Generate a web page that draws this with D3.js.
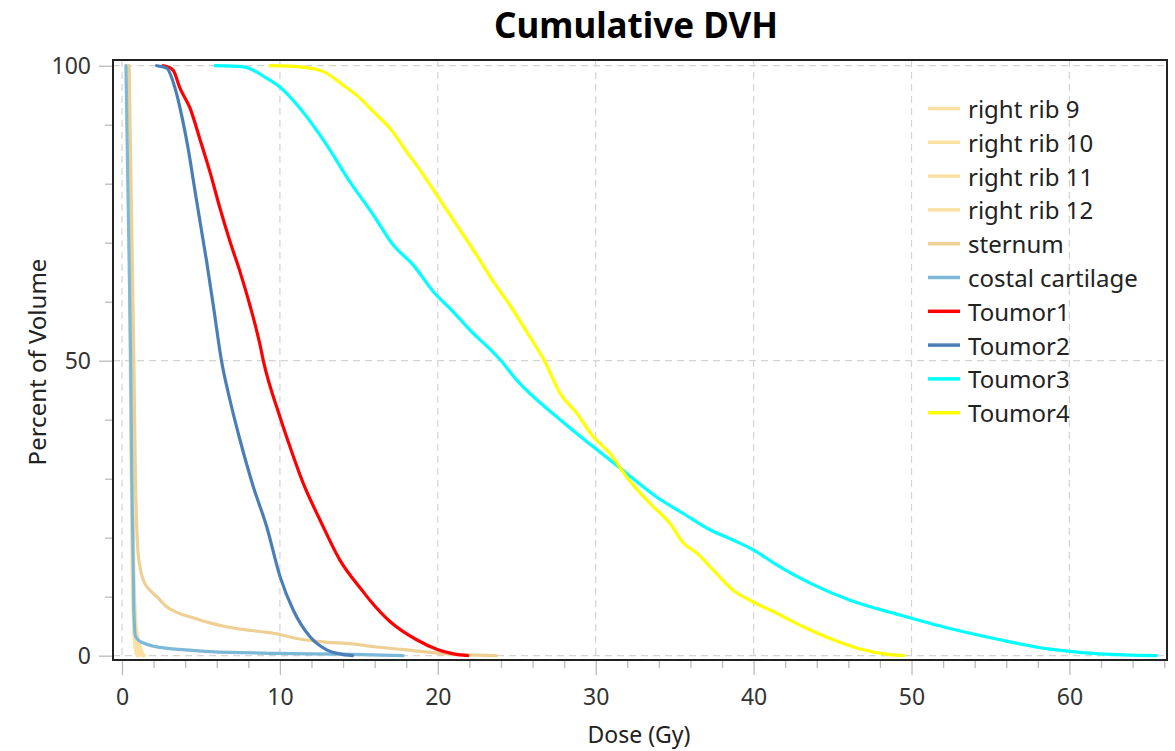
<!DOCTYPE html>
<html>
<head>
<meta charset="utf-8">
<script src="https://cdn.jsdelivr.net/npm/d3@7"></script>
<style>
  body { margin: 0; background: #fff; }
  text { font-family: "Noto Sans", "Open Sans", sans-serif; fill: #222; }
</style>
</head>
<body>
<script>
const svgWidth = 1175;
const svgHeight = 751;

// series: [dose (Gy), percent of volume]
const rib9 = [[0.35,100],[0.45,70],[0.55,40],[0.65,15],[0.75,5],[0.9,1.5],[1.05,0]];
const rib10 = [[0.4,100],[0.5,70],[0.6,40],[0.72,15],[0.85,5],[1.05,1.5],[1.3,0]];
const rib11 = [[0.38,100],[0.48,70],[0.57,40],[0.66,15],[0.74,5],[0.82,1.5],[0.95,0]];
const rib12 = [[0.42,100],[0.52,70],[0.62,40],[0.75,15],[0.9,5],[1.15,1.5],[1.4,0]];
const sternum = [[0.45,100],[0.6,75],[0.75,50],[0.85,30],[0.93,22],[1.0,18],[1.14,15],[1.4,12.5],[1.77,11.1],
  [2.2,10],[2.83,8.3],[3.5,7.3],[4.4,6.5],[5.5,5.6],[6.6,4.9],[7.5,4.5],[8.7,4.1],[10,3.6],[10.9,3.0],
  [12.9,2.3],[14.6,2.0],[15.7,1.6],[18,1.0],[20.1,0.4],[22,0.15],[23.7,0]];
const costal = [[0.25,100],[0.4,75],[0.55,50],[0.62,30],[0.68,20],[0.75,8],[0.85,3.3],[1.1,2.5],[1.5,2.0],
  [2.4,1.4],[4,1.0],[5.6,0.7],[9.8,0.4],[14,0.25],[17.8,0]];
const toumor1 = [[2.6,100],[2.9,99.8],[3.25,99.2],[3.67,96.2],[4.31,92.8],[4.94,87.5],[5.57,82],[6.21,75.8],
  [6.84,70.2],[7.47,65.1],[8.1,59.4],[8.74,52.7],[8.95,50],[10.0,40.5],[10.64,35.4],[11.48,29.2],[12.54,23],
  [13.8,16.2],[15.2,11.1],[15.7,9.4],[16.97,5.8],[18.66,2.7],[19.93,1.1],[21,0.3],[21.9,0]];
const toumor2 = [[2.2,100],[2.83,99.6],[3.36,96.2],[3.8,91.3],[4.2,85.8],[4.58,79.5],[4.94,73.6],[5.36,66.8],
  [5.78,59.4],[6.3,50],[6.84,43.3],[7.47,36.6],[8.32,28.6],[9.16,21.9],[10.01,13.4],[10.85,7.7],[11.91,3.2],
  [12.96,1.0],[13.8,0.3],[14.6,0]];
const toumor3 = [[5.9,100],[7.7,99.8],[9.16,97.9],[10.0,96.4],[11.27,92.8],[12.96,86.6],[14.44,80.3],[15.92,74.7],
  [17.18,69.6],[18.45,66.2],[19.72,61.7],[20.9,58.5],[22.04,55.2],[23.94,50.2],[25.0,46.7],[27.53,40.5],
  [29.85,35.4],[31.96,30.9],[33.86,26.9],[35.55,24.1],[37.27,21.3],[38.7,19.6],[40.0,17.9],[41.46,15.4],
  [43.57,12.3],[46.11,9.4],[49.27,6.9],[52.44,4.6],[55.6,2.7],[58.77,1.1],[61.94,0.3],[65.5,0]];
const toumor4 = [[9.37,100],[11.27,99.8],[12.75,99],[14.01,96.7],[15.07,94.5],[15.92,92.2],[16.97,89.4],
  [18.03,85.4],[19.09,81.5],[19.93,78.1],[21.2,73],[22.46,67.9],[23.52,63.4],[24.57,59.4],[25.7,54.6],
  [26.75,50],[27.74,44.5],[28.8,41.1],[29.85,37.1],[30.9,34.3],[31.96,30.3],[33.44,25.8],[34.71,22.4],
  [35.55,19.1],[36.4,17.4],[37.45,14.5],[38.7,11.1],[39.77,9.4],[41.46,7.2],[43.14,4.9],[45.04,2.7],
  [46.94,1.0],[48.3,0.3],[49.5,0]];

const seriesNames = ["right rib 9","right rib 10","right rib 11","right rib 12","sternum",
  "costal cartilage","Toumor1","Toumor2","Toumor3","Toumor4"];
const seriesData = [rib9, rib10, rib11, rib12, sternum, costal, toumor1, toumor2, toumor3, toumor4];
const seriesColors = ["#fae1a2","#fae1a2","#fae1a2","#fae1a2","#efd094","#7cb9d8",
  "#ff0000","#4a7eb7","#00ffff","#ffff00"];

const xMajor = [0,10,20,30,40,50,60];
const yMajor = [0,50,100];

// plot frame
const plotLeft = 113, plotRight = 1167, plotTop = 60, plotBottom = 660;

const svg = d3.select("body").append("svg")
  .attr("width", svgWidth)
  .attr("height", svgHeight);

const xScale = d3.scaleLinear().domain([-0.57, 66.18]).range([plotLeft, plotRight]);
const yScale = d3.scaleLinear().domain([-0.73, 100.97]).range([plotBottom, plotTop]);

// title
svg.append("text")
  .attr("x", 636).attr("y", 38)
  .attr("text-anchor", "middle")
  .style("font-size", "35px").style("font-weight", "bold")
  .style("fill", "#000")
  .text("Cumulative DVH");

// grid
const grid = svg.append("g").attr("class", "grid");
xMajor.forEach(function(v) {
  grid.append("line")
    .attr("x1", xScale(v)).attr("x2", xScale(v))
    .attr("y1", plotTop).attr("y2", plotBottom)
    .style("stroke", "#d4d4d4").style("stroke-width", 1.2)
    .style("stroke-dasharray", "7,5");
});
yMajor.forEach(function(v) {
  grid.append("line")
    .attr("x1", plotLeft).attr("x2", plotRight)
    .attr("y1", yScale(v)).attr("y2", yScale(v))
    .style("stroke", "#d4d4d4").style("stroke-width", 1.2)
    .style("stroke-dasharray", "7,5");
});

// axes
const xMinor = d3.range(0, 67, 2).filter(function(v) { return v % 10 !== 0; });
const yMinor = d3.range(0, 101, 10).filter(function(v) { return v % 50 !== 0; });

const xAxis = d3.axisBottom(xScale).tickValues(xMajor).tickSize(15).tickPadding(14).tickSizeOuter(0);
const xAxisMinor = d3.axisBottom(xScale).tickValues(xMinor).tickSize(8).tickFormat("").tickSizeOuter(0);
const yAxis = d3.axisLeft(yScale).tickValues(yMajor).tickSize(14).tickPadding(8).tickSizeOuter(0);
const yAxisMinor = d3.axisLeft(yScale).tickValues(yMinor).tickSize(8).tickFormat("").tickSizeOuter(0);

[svg.append("g").attr("transform", "translate(0," + plotBottom + ")").call(xAxis),
 svg.append("g").attr("transform", "translate(0," + plotBottom + ")").call(xAxisMinor),
 svg.append("g").attr("transform", "translate(" + plotLeft + ",0)").call(yAxis),
 svg.append("g").attr("transform", "translate(" + plotLeft + ",0)").call(yAxisMinor)
].forEach(function(g) {
  g.select(".domain").remove();
  g.selectAll(".tick line").style("stroke", "#bbb").style("stroke-width", 1.3);
  g.selectAll(".tick text").style("font-size", "23px").style("fill", "#333")
    .style("font-family", "'Noto Sans', sans-serif");
});

// curves
const line = d3.line()
  .curve(d3.curveMonotoneX)
  .x(function(d) { return xScale(d[0]); })
  .y(function(d) { return yScale(d[1]); });

const plot = svg.append("g");
seriesData.forEach(function(data, i) {
  plot.append("path")
    .attr("d", line(data))
    .attr("fill", "none")
    .attr("stroke", seriesColors[i])
    .attr("stroke-width", 3.2)
    .attr("stroke-linejoin", "round")
    .attr("stroke-linecap", "round");
});

// frame
svg.append("rect")
  .attr("x", plotLeft).attr("y", plotTop)
  .attr("width", plotRight - plotLeft).attr("height", plotBottom - plotTop)
  .attr("fill", "none")
  .attr("stroke", "#222").attr("stroke-width", 2);

// legend
const legend = svg.append("g");
seriesNames.forEach(function(name, i) {
  const ly = 108.5 + i * 33.8;
  legend.append("line")
    .attr("x1", 928).attr("x2", 960)
    .attr("y1", ly).attr("y2", ly)
    .attr("stroke", seriesColors[i]).attr("stroke-width", 3.5);
  legend.append("text")
    .attr("x", 968).attr("y", ly)
    .attr("dominant-baseline", "central")
    .style("font-size", "24px")
    .text(name);
});

// axis labels
svg.append("text")
  .attr("x", 639).attr("y", 734)
  .attr("text-anchor", "middle").attr("dominant-baseline", "central")
  .style("font-size", "23px")
  .text("Dose (Gy)");
svg.append("text")
  .attr("transform", "translate(36,362) rotate(-90)")
  .attr("text-anchor", "middle").attr("dominant-baseline", "central")
  .style("font-size", "24px")
  .text("Percent of Volume");
</script>
</body>
</html>
